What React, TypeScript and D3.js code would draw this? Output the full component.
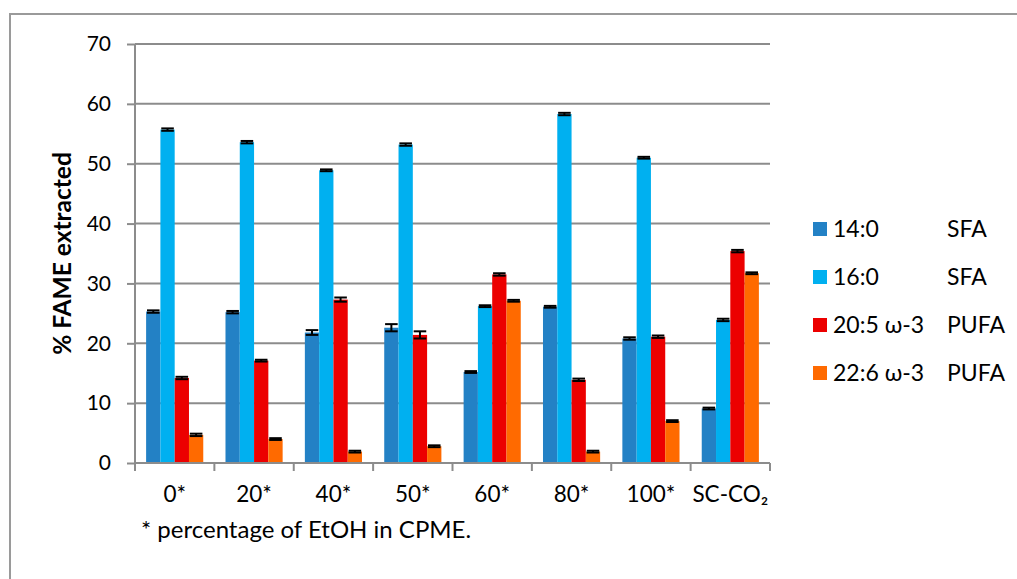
import React, { useRef, useEffect } from "react";
import * as d3 from "d3";

const categories = ["0*", "20*", "40*", "50*", "60*", "80*", "100*", "SC-CO₂"];
const seriesNames = ["14:0", "16:0", "20:5 ω-3", "22:6 ω-3"];
const seriesClass = ["SFA", "SFA", "PUFA", "PUFA"];
const seriesColors = ["#2381c5", "#00b0f0", "#ec0000", "#ff6a00"];

const fa140 = [25.3, 25.2, 21.8, 22.6, 15.2, 26.1, 20.8, 9.1];
const fa160 = [55.7, 53.6, 48.9, 53.2, 26.2, 58.3, 51.0, 23.9];
const fa205 = [14.2, 17.1, 27.3, 21.4, 31.5, 13.9, 21.1, 35.4];
const fa226 = [4.7, 4.0, 1.9, 2.8, 27.1, 1.9, 7.0, 31.7];

const err140 = [0.2, 0.2, 0.4, 0.6, 0.15, 0.15, 0.2, 0.15];
const err160 = [0.2, 0.2, 0.15, 0.2, 0.15, 0.2, 0.15, 0.2];
const err205 = [0.2, 0.15, 0.35, 0.6, 0.2, 0.2, 0.2, 0.2];
const err226 = [0.2, 0.15, 0.15, 0.15, 0.15, 0.15, 0.15, 0.15];

const yTicks = [0, 10, 20, 30, 40, 50, 60, 70];

const W = 1017;
const H = 579;
const FONT = "Lato, 'Open Sans', sans-serif";

const App = () => {
    const svgRef = useRef<SVGSVGElement>(null);

    useEffect(() => {
        const svg = d3.select(svgRef.current);
        svg.selectAll("*").remove();

        const margin = { top: 44, left: 135, right: 770, bottom: 463 };
        const values = [fa140, fa160, fa205, fa226];
        const errors = [err140, err160, err205, err226];

        const x0 = d3.scaleBand().domain(categories).range([margin.left, margin.right]).paddingInner(0).paddingOuter(0);
        const groupInner = 0.28;
        const x1 = d3.scaleBand().domain(seriesNames)
            .range([x0.bandwidth() * groupInner / 2, x0.bandwidth() * (1 - groupInner / 2)]);
        const y = d3.scaleLinear().domain([0, 70]).range([margin.bottom, margin.top]);

        // frame
        svg.append("rect")
            .attr("x", 10).attr("y", 14).attr("width", W).attr("height", H)
            .attr("fill", "white").attr("stroke", "#9a9a9a").attr("stroke-width", 2);

        // grid + y axis
        const gy = svg.append("g").attr("transform", `translate(${margin.left},0)`)
            .call(d3.axisLeft(y).tickValues(yTicks).tickSize(8).tickPadding(16));
        gy.select(".domain").remove();
        gy.selectAll(".tick line").attr("stroke", "#8c8c8c").attr("stroke-width", 2);
        gy.selectAll(".tick text").attr("font-size", 21).attr("fill", "#000").attr("font-family", FONT);

        svg.append("g").selectAll("line").data(yTicks.filter(t => t > 0)).enter().append("line")
            .attr("x1", margin.left).attr("x2", margin.right)
            .attr("y1", d => y(d)).attr("y2", d => y(d))
            .attr("stroke", "#8c8c8c").attr("stroke-width", 2);

        // bars
        seriesNames.forEach((name, si) => {
            const g = svg.append("g");
            g.selectAll("rect").data(values[si]).enter().append("rect")
                .attr("x", (d, i) => (x0(categories[i]) as number) + (x1(name) as number))
                .attr("y", d => y(d))
                .attr("width", x1.bandwidth())
                .attr("height", d => y(0) - y(d))
                .attr("fill", seriesColors[si]);

            // error bars
            const eg = svg.append("g").attr("stroke", "#000").attr("stroke-width", 2);
            values[si].forEach((v, i) => {
                const cx = (x0(categories[i]) as number) + (x1(name) as number) + x1.bandwidth() / 2;
                const e = errors[si][i];
                const hw = x1.bandwidth() * 0.44;
                eg.append("line").attr("x1", cx).attr("x2", cx).attr("y1", y(v + e)).attr("y2", y(v - e));
                eg.append("line").attr("x1", cx - hw).attr("x2", cx + hw).attr("y1", y(v + e)).attr("y2", y(v + e));
                eg.append("line").attr("x1", cx - hw).attr("x2", cx + hw).attr("y1", y(v - e)).attr("y2", y(v - e));
            });
        });

        // axes lines
        svg.append("line").attr("x1", margin.left).attr("x2", margin.left)
            .attr("y1", margin.top).attr("y2", margin.bottom)
            .attr("stroke", "#8c8c8c").attr("stroke-width", 2);
        svg.append("line").attr("x1", margin.left).attr("x2", margin.right)
            .attr("y1", margin.bottom).attr("y2", margin.bottom)
            .attr("stroke", "#8c8c8c").attr("stroke-width", 2);

        // category ticks at boundaries
        const bounds = categories.map(c => x0(c) as number).concat([margin.right]);
        svg.append("g").selectAll("line").data(bounds).enter().append("line")
            .attr("x1", d => d).attr("x2", d => d)
            .attr("y1", margin.bottom).attr("y2", margin.bottom + 8)
            .attr("stroke", "#8c8c8c").attr("stroke-width", 2);

        svg.append("g").selectAll("text").data(categories).enter().append("text")
            .attr("x", d => (x0(d) as number) + x0.bandwidth() / 2)
            .attr("y", 502)
            .attr("text-anchor", "middle")
            .attr("font-size", 22.5).attr("font-family", FONT)
            .text(d => d);

        svg.append("text")
            .attr("x", 141).attr("y", 538)
            .attr("font-size", 24).attr("font-family", FONT)
            .text("* percentage of EtOH in CPME.");

        svg.append("text")
            .attr("transform", `translate(71,${(margin.top + margin.bottom) / 2}) rotate(-90)`)
            .attr("text-anchor", "middle")
            .attr("font-size", 24.5).attr("font-weight", "bold").attr("font-family", FONT)
            .text("% FAME extracted");

        // legend
        const lg = svg.append("g");
        seriesNames.forEach((name, i) => {
            const cy = 229 + i * 48;
            lg.append("rect").attr("x", 813).attr("y", cy - 7).attr("width", 14).attr("height", 14)
                .attr("fill", seriesColors[i]);
            lg.append("text").attr("x", 833).attr("y", cy + 8)
                .attr("font-size", 23).attr("font-family", FONT).text(name);
            lg.append("text").attr("x", 947).attr("y", cy + 8)
                .attr("font-size", 23).attr("font-family", FONT).text(seriesClass[i]);
        });
    }, []);

    return (
        <svg ref={svgRef} width={W} height={H}
            style={{ position: "absolute", left: 0, top: 0, background: "#fff" }} />
    );
};

export default App;
